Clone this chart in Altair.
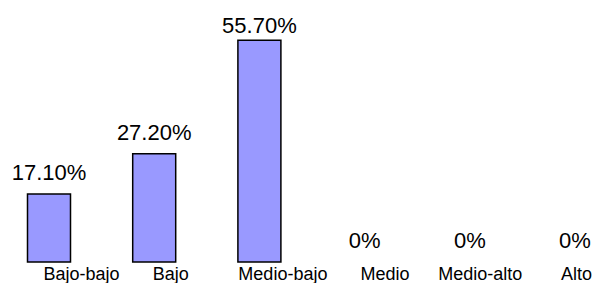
import altair as alt
import pandas as pd

categories = ["Bajo-bajo", "Bajo", "Medio-bajo", "Medio", "Medio-alto", "Alto"]
values = [17.1, 27.2, 55.7, 0, 0, 0]

df = pd.DataFrame({"cat": categories, "v": values})

FONT = "Liberation Sans"

label_offset = {
    "condition": [
        {"test": "datum.value === 'Bajo-bajo'", "value": 32},
        {"test": "datum.value === 'Medio-bajo'", "value": 23},
        {"test": "datum.value === 'Medio'", "value": 20},
        {"test": "datum.value === 'Medio-alto'", "value": 10},
        {"test": "datum.value === 'Alto'", "value": 1},
    ],
    "value": 16,
}

x = alt.X("cat:N", sort=categories,
          scale=alt.Scale(type="point", padding=0),
          axis=alt.Axis(title=None, domain=False, ticks=False, labelPadding=3,
                        labelFontSize=18, labelFont=FONT, labelColor="black",
                        labelOffset=label_offset, labelAngle=0))
y = alt.Y("v:Q", scale=alt.Scale(domain=[0, 60]), axis=None)

base = alt.Chart(df).encode(x=x)

bars = base.transform_filter("datum.v > 0").mark_bar(
    size=43, color="#9999FF", stroke="black", strokeWidth=1.5
).encode(y=y)

labels = base.transform_calculate(
    lab="datum.v > 0 ? format(datum.v, '.2f') + '%' : '0%'",
    ly="min(datum.v, 54)",
).mark_text(
    baseline="alphabetic", dy=-14, fontSize=22, font=FONT, color="black"
).encode(y=alt.Y("ly:Q", scale=alt.Scale(domain=[0, 60]), axis=None),
         text="lab:N")

chart = (bars + labels).properties(
    width=526, height=239,
    autosize=alt.AutoSizeParams(type="none"),
    padding={"left": 41, "top": 15, "right": 18, "bottom": 21},
).configure_view(stroke=None)

chart.save("out.html", embed_options={"renderer": "svg", "actions": False})
